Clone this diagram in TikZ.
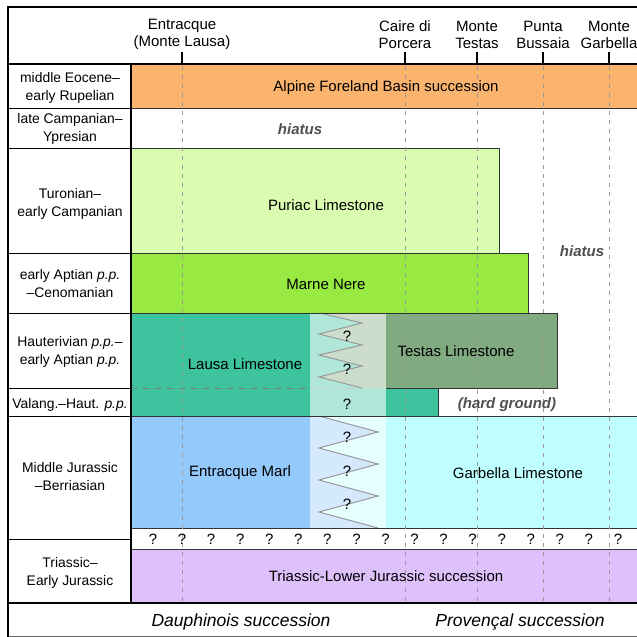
\documentclass[tikz,border=0pt]{standalone}
\usepackage{fontspec}
\setmainfont{Liberation Sans}
\usepackage{tikz}
\usepackage{xcolor}

\definecolor{afb}{RGB}{250,180,110}
\definecolor{puriac}{RGB}{217,252,176}
\definecolor{marne}{RGB}{152,233,66}
\definecolor{lausa}{RGB}{61,195,158}
\definecolor{testas}{RGB}{128,170,128}
\definecolor{entracque}{RGB}{148,201,251}
\definecolor{garbella}{RGB}{191,255,255}
\definecolor{trias}{RGB}{222,192,250}
\definecolor{gapgray}{RGB}{80,80,80}

\begin{document}
\begin{tikzpicture}[x=1pt,y=-1pt,font=\fontsize{15}{17}\selectfont]
			\tikzstyle{every node}+=[inner sep=0pt,yshift=-1.5pt]
			\tikzstyle{unit}=[draw=black!80,line width=0.8pt]
			\tikzstyle{rule}=[black,line width=1pt]
			\tikzstyle{frame}=[black,line width=2pt]
			\tikzstyle{site}=[black!40,line width=1pt,dash pattern=on 4pt off 5pt]
			\tikzstyle{zig}=[black!40,line width=1pt]
			\tikzstyle{gap}=[font=\fontsize{15}{17}\selectfont\bfseries\itshape,text=gapgray]
			\tikzstyle{age}=[align=center,font=\fontsize{13.9}{18}\selectfont]
			\clip (0,0) rectangle (637,637);
			\fill [white] (0,0) rectangle (637,637);
			\fill [afb] (131,64) rectangle (637,108);
			\draw [unit] (131,108) -- (637,108);
			\draw [unit,fill=puriac] (131,148) rectangle (499,253);
			\draw [unit,fill=marne] (131,253) rectangle (528,313);
			\fill [lausa] (131,313) rectangle (386,416) (386,388) rectangle (438,416);
			\draw [black!50,line width=1pt,dash pattern=on 7pt off 5pt] (131,388) -- (362,388);
			\fill [testas] (320,313) -- (362,323) -- (319,334) -- (362,345) -- (319,355) -- (362,366) -- (319,377) -- (362,388) -- (557,388) -- (557,313) -- cycle;
			\fill [garbella] (131,416) rectangle (637,528);
			\fill [entracque] (131,416) -- (319,416) -- (378,432) -- (319,448) -- (378,464) -- (319,480) -- (378,496) -- (319,512) -- (378,528) -- (131,528) -- cycle;
			\fill [trias] (131,549) rectangle (637,603);
			\fill [white,opacity=0.6] (310,313) rectangle (386,528);
			\draw [zig] (320,313) -- (362,323) -- (319,334) -- (362,345) -- (319,355) -- (362,366) -- (319,377) -- (362,388);
			\draw [zig] (319,416) -- (378,432) -- (319,448) -- (378,464) -- (319,480) -- (378,496) -- (319,512) -- (378,528);
			\draw [unit] (131,313) -- (557,313) -- (557,388) -- (386,388);
			\draw [unit] (438,388) -- (438,416);
			\draw [unit] (131,416) -- (637,416);
			\draw [unit] (131,528) -- (637,528);
			\draw [unit] (131,549) -- (637,549);
			\foreach \x in {182,405,477,543,609}
				\draw [site] (\x,66) -- (\x,603);
			\foreach \x in {182,405,477,543,609}
				\draw [black,line width=1.5pt] (\x,52) -- (\x,64);
			\foreach \y in {108,148,253,313,388,416,539}
				\draw [rule] (8,\y) -- (131,\y);
			\draw [black,line width=1.5pt] (8,64) -- (637,64);
			\draw [black,line width=1.5pt] (131,64) -- (131,603);
			\draw [black,line width=1.5pt] (8,603) -- (637,603);
			\draw [black!60,line width=1pt] (8,636) -- (637,636);
			\draw [frame] (8,637) -- (8,7) -- (637,7);
			\node [align=center] (entr) at (182,33) {Entracque\\(Monte Lausa)};
			\node [align=center] (caire) at (405,33) {Caire di\\Porcera};
			\node [align=center] (testas) at (477,33) {Monte\\Testas};
			\node [align=center] (punta) at (543,33) {Punta\\Bussaia};
			\node [align=center] (garb) at (609,33) {Monte\\Garbella};
			\node [age] (age1) at (70,86) {middle Eocene–\\early Rupelian};
			\node [age] (age2) at (70,127) {late Campanian–\\Ypresian};
			\node [age] (age3) at (70,202) {Turonian–\\early Campanian};
			\node [age] (age4) at (70,282) {early Aptian \textit{p.p.}\\–Cenomanian};
			\node [age] (age5) at (70,350) {Hauterivian \textit{p.p.}–\\early Aptian \textit{p.p.}};
			\node [age] (age6) at (70,403) {Valang.–Haut. \textit{p.p.}};
			\node [age] (age7) at (70,475) {Middle Jurassic\\–Berriasian};
			\node [age] (age8) at (70,571) {Triassic–\\Early Jurassic};
			\node (afbname) at (386,86) {Alpine Foreland Basin succession};
			\node [gap] (gap1) at (300,128) {hiatus};
			\node [gap] (gap2) at (582,250) {hiatus};
			\node (puriacname) at (326,204) {Puriac Limestone};
			\node (marnename) at (326,283) {Marne Nere};
			\node (lausaname) at (245,363) {Lausa Limestone};
			\node (testasname) at (456,350) {Testas Limestone};
			\node [gap] (hard) at (507,403) {(hard ground)};
			\node (entrname) at (240,471) {Entracque Marl};
			\node (garbname) at (518,472) {Garbella Limestone};
			\node (triasname) at (386,575) {Triassic-Lower Jurassic succession};
			\node (qa) at (347,335) {?};
			\node (qb) at (347,368) {?};
			\node (qc) at (347,403) {?};
			\node (qd) at (347,436) {?};
			\node (qe) at (347,470) {?};
			\node (qf) at (347,503) {?};
			\foreach \i in {0,...,16}
				\node (q\i) at (153+29.06*\i,538) {?};
			\node [font=\fontsize{17.5}{20}\selectfont\itshape] (dauph) at (241,620) {Dauphinois succession};
			\node [font=\fontsize{17.5}{20}\selectfont\itshape] (prov) at (520,620) {Provençal succession};
		\end{tikzpicture}
\end{document}
